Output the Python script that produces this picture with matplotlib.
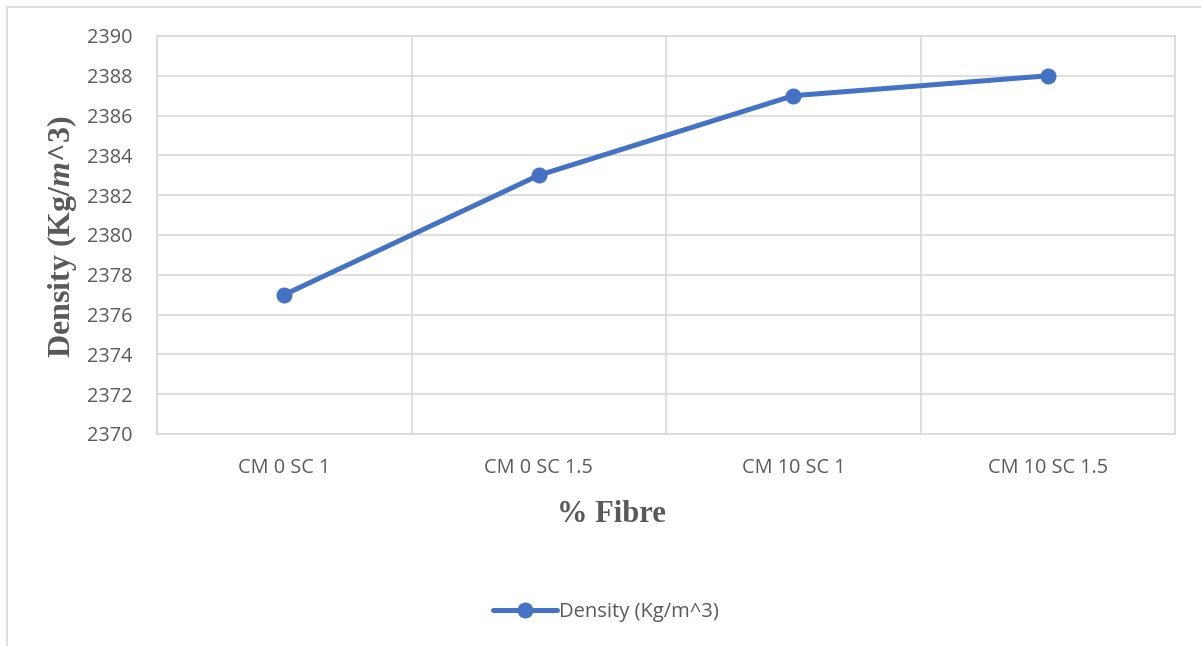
import matplotlib.pyplot as plt
import matplotlib.patches as mpatches
import numpy as np

categories = ['CM 0 SC 1', 'CM 0 SC 1.5', 'CM 10 SC 1', 'CM 10 SC 1.5']
density = [2377, 2383, 2387, 2388]
yticks = [2370, 2372, 2374, 2376, 2378, 2380, 2382, 2384, 2386, 2388, 2390]

plt.rcParams['mathtext.fontset'] = 'custom'
plt.rcParams['mathtext.it'] = 'Liberation Serif:italic:bold'
plt.rcParams['mathtext.rm'] = 'Liberation Serif:bold'

txt = '#595959'
grid = '#d9d9d9'
blue = '#4472C4'

fig = plt.figure(figsize=(12.01, 6.46), dpi=100)
# outer chart frame (partly cut off at right / bottom)
fig.patches.append(mpatches.Rectangle((7/1201, -0.1), 1.2, 1 - 7/646 + 0.1,
                                      transform=fig.transFigure, fill=False,
                                      edgecolor=grid, linewidth=1.2))

ax = fig.add_axes([157/1201, 1 - 434/646, (1175 - 157)/1201, (434 - 36)/646])
x = np.arange(len(categories))
ax.plot(x, density, color=blue, linewidth=3.6, marker='o', markersize=10.5,
        label='Density (Kg/m^3)', solid_capstyle='round')

ax.set_xlim(-0.5, len(categories) - 0.5)
ax.set_ylim(2370, 2390)
ax.set_yticks(yticks)
ax.set_xticks(x)
ax.set_xticklabels(categories)
ax.set_xticks(np.arange(-0.5, len(categories), 1.0), minor=True)
ax.grid(True, axis='y', which='major', color=grid, linewidth=1.2)
ax.grid(True, axis='x', which='minor', color=grid, linewidth=1.2)
ax.set_axisbelow(True)
for s in ax.spines.values():
    s.set_color(grid)
    s.set_linewidth(1.2)
ax.tick_params(which='both', length=0)
ax.tick_params(axis='y', pad=18)
ax.tick_params(axis='x', pad=17)
for lab in ax.get_xticklabels() + ax.get_yticklabels():
    lab.set_fontfamily('Open Sans')
    lab.set_fontsize(14.3)
    lab.set_color(txt)

fig.text(611/1201, 1 - 515/646, '% Fibre', fontfamily='Liberation Serif',
         fontweight='bold', fontsize=22, color=txt, ha='center', va='center')
fig.text(62/1201, 1 - 237/646, r'Density (Kg/$m$^3)', fontfamily='Liberation Serif',
         fontweight='bold', fontsize=23, color=txt, ha='center', va='center',
         rotation=90)

leg = fig.legend(loc='center', bbox_to_anchor=(606/1201, 1 - 612/646),
                 frameon=False, handlelength=3.2, handletextpad=0.1,
                 prop={'family': 'Open Sans', 'size': 14.5})
for t in leg.get_texts():
    t.set_color(txt)

fig.savefig('out.png', dpi=100)
